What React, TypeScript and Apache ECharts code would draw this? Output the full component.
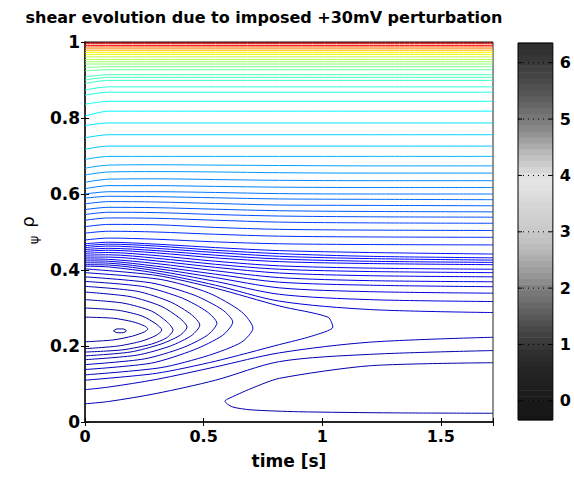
import React, { useEffect, useRef } from "react";
import * as echarts from "echarts";

const TITLE = "shear evolution due to imposed +30mV perturbation";
const X_NAME = "time [s]";
const X_MIN = 0;
const X_MAX = 1.72;
const X_STEP = 0.5;
const Y_MIN = 0;
const Y_MAX = 1;
const Y_STEP = 0.2;

// time samples shared by the horizontal-ish contours
const flatT = [0, 0.1, 0.3, 0.55, 0.82, 1.2, 1.72];

// rho of each horizontal-ish contour at the flatT samples
const flatRho: number[][] = [
  [0.999, 0.999, 0.999, 0.999, 0.999, 0.999, 0.999],
  [0.9955, 0.9955, 0.9955, 0.9955, 0.9955, 0.9955, 0.9955],
  [0.991, 0.991, 0.991, 0.991, 0.991, 0.991, 0.991],
  [0.987, 0.987, 0.987, 0.987, 0.987, 0.987, 0.987],
  [0.982, 0.982, 0.982, 0.982, 0.982, 0.982, 0.982],
  [0.977, 0.977, 0.977, 0.977, 0.977, 0.977, 0.977],
  [0.972, 0.972, 0.972, 0.972, 0.972, 0.972, 0.972],
  [0.967, 0.967, 0.967, 0.967, 0.967, 0.967, 0.967],
  [0.961, 0.961, 0.961, 0.961, 0.961, 0.961, 0.961],
  [0.954, 0.954, 0.954, 0.954, 0.954, 0.954, 0.954],
  [0.948, 0.948, 0.948, 0.948, 0.948, 0.948, 0.948],
  [0.942, 0.942, 0.942, 0.942, 0.942, 0.942, 0.942],
  [0.933, 0.935, 0.935, 0.935, 0.935, 0.935, 0.935],
  [0.924, 0.927, 0.927, 0.927, 0.927, 0.927, 0.927],
  [0.908, 0.914, 0.914, 0.914, 0.914, 0.914, 0.914],
  [0.9, 0.907, 0.907, 0.907, 0.907, 0.907, 0.907],
  [0.891, 0.899, 0.899, 0.899, 0.899, 0.899, 0.899],
  [0.874, 0.882, 0.882, 0.882, 0.882, 0.882, 0.882],
  [0.86, 0.868, 0.868, 0.868, 0.868, 0.868, 0.868],
  [0.836, 0.844, 0.844, 0.844, 0.844, 0.844, 0.844],
  [0.805, 0.818, 0.818, 0.818, 0.818, 0.818, 0.818],
  [0.78, 0.787, 0.787, 0.787, 0.787, 0.787, 0.787],
  [0.748, 0.756, 0.756, 0.756, 0.756, 0.756, 0.756],
  [0.718, 0.726, 0.726, 0.726, 0.726, 0.726, 0.726],
  [0.691, 0.699, 0.699, 0.699, 0.699, 0.699, 0.699],
  [0.668, 0.676, 0.677, 0.676, 0.675, 0.674, 0.674],
  [0.65, 0.658, 0.659, 0.658, 0.656, 0.655, 0.655],
  [0.631, 0.639, 0.64, 0.638, 0.636, 0.635, 0.635],
  [0.614, 0.622, 0.622, 0.62, 0.618, 0.617, 0.617],
  [0.6, 0.606, 0.606, 0.604, 0.601, 0.6, 0.6],
  [0.589, 0.594, 0.593, 0.59, 0.587, 0.586, 0.585],
  [0.574, 0.58, 0.579, 0.575, 0.571, 0.57, 0.569],
  [0.559, 0.565, 0.564, 0.56, 0.556, 0.554, 0.553],
  [0.546, 0.552, 0.551, 0.546, 0.542, 0.54, 0.539],
  [0.531, 0.537, 0.536, 0.531, 0.526, 0.524, 0.523],
  [0.514, 0.52, 0.519, 0.512, 0.507, 0.505, 0.504],
  [0.497, 0.502, 0.5, 0.494, 0.489, 0.487, 0.486],
  [0.479, 0.484, 0.481, 0.474, 0.469, 0.467, 0.466],
  [0.469, 0.473, 0.468, 0.459, 0.451, 0.446, 0.442],
  [0.464, 0.468, 0.463, 0.452, 0.443, 0.436, 0.432],
  [0.459, 0.463, 0.457, 0.446, 0.436, 0.43, 0.426],
  [0.454, 0.457, 0.451, 0.439, 0.429, 0.423, 0.42],
  [0.449, 0.452, 0.445, 0.432, 0.422, 0.417, 0.414],
  [0.444, 0.446, 0.438, 0.423, 0.411, 0.405, 0.402],
  [0.439, 0.44, 0.431, 0.415, 0.402, 0.396, 0.393],
  [0.434, 0.434, 0.424, 0.407, 0.392, 0.385, 0.382],
  [0.429, 0.428, 0.417, 0.398, 0.38, 0.372, 0.369],
  [0.424, 0.423, 0.41, 0.389, 0.368, 0.36, 0.356],
  [0.419, 0.418, 0.404, 0.38, 0.353, 0.343, 0.339],
  [0.414, 0.413, 0.398, 0.37, 0.336, 0.322, 0.317],
  [0.41, 0.408, 0.392, 0.36, 0.318, 0.296, 0.288],
  [0.085, 0.092, 0.112, 0.145, 0.182, 0.21, 0.223],
  [0.048, 0.054, 0.075, 0.11, 0.159, 0.178, 0.188],
];

// colour-map position (0..1) of each horizontal-ish contour
const flatLevels = [
  1.0, 0.93, 0.86, 0.8, 0.74, 0.68, 0.63, 0.6, 0.57, 0.55, 0.53, 0.51, 0.49,
  0.47, 0.45, 0.44, 0.43, 0.415, 0.4, 0.385, 0.365, 0.35, 0.335, 0.32, 0.3,
  0.285, 0.27, 0.26, 0.25, 0.24, 0.23, 0.22, 0.21, 0.2, 0.19, 0.18, 0.17, 0.16,
  0.14, 0.135, 0.13, 0.125, 0.12, 0.115, 0.11, 0.105, 0.1, 0.095, 0.09, 0.085,
  0.08, 0.06, 0.05,
];

// contours that turn back inside the plot: [time, rho] points
const loopPaths: number[][][] = [
  [[0.12, 0.24], [0.135, 0.245], [0.16, 0.245], [0.175, 0.24], [0.16, 0.235], [0.135, 0.235], [0.12, 0.24]],
  [[0, 0.276], [0.12, 0.273], [0.2, 0.264], [0.25, 0.253], [0.265, 0.245], [0.25, 0.237], [0.2, 0.226], [0.12, 0.216], [0, 0.211]],
  [[0, 0.3], [0.14, 0.294], [0.24, 0.279], [0.3, 0.258], [0.324, 0.242], [0.3, 0.228], [0.24, 0.213], [0.14, 0.2], [0, 0.193]],
  [[0, 0.322], [0.16, 0.313], [0.28, 0.292], [0.345, 0.264], [0.371, 0.242], [0.345, 0.222], [0.28, 0.205], [0.16, 0.19], [0, 0.184]],
  [[0, 0.342], [0.19, 0.33], [0.32, 0.305], [0.4, 0.273], [0.43, 0.25], [0.4, 0.228], [0.32, 0.205], [0.19, 0.184], [0, 0.174]],
  [[0, 0.357], [0.22, 0.344], [0.36, 0.316], [0.45, 0.282], [0.484, 0.255], [0.45, 0.228], [0.36, 0.2], [0.22, 0.176], [0, 0.164]],
  [[0, 0.37], [0.25, 0.356], [0.41, 0.326], [0.515, 0.29], [0.556, 0.26], [0.515, 0.228], [0.41, 0.195], [0.25, 0.166], [0, 0.151]],
  [[0, 0.382], [0.28, 0.366], [0.46, 0.334], [0.58, 0.295], [0.623, 0.263], [0.58, 0.228], [0.46, 0.19], [0.28, 0.155], [0, 0.138]],
  [[0, 0.393], [0.32, 0.375], [0.52, 0.34], [0.66, 0.29], [0.708, 0.247], [0.66, 0.21], [0.52, 0.175], [0.32, 0.143], [0, 0.124]],
  [[0, 0.403], [0.3, 0.386], [0.55, 0.352], [0.821, 0.305], [1.024, 0.276], [1.045, 0.25], [0.956, 0.226], [0.821, 0.204], [0.55, 0.16], [0.3, 0.128], [0, 0.11]],
  [[1.72, 0.156], [1.2, 0.148], [0.82, 0.115], [0.7, 0.088], [0.6, 0.06], [0.59, 0.055], [0.62, 0.04], [0.7, 0.032], [0.9, 0.027], [1.3, 0.024], [1.72, 0.023]],
];
const loopLevels = [0.02, 0.03, 0.035, 0.04, 0.045, 0.05, 0.055, 0.06, 0.065, 0.07, 0.04];

// colour bar: grey level of each band, bottom to top
const cbarMin = -0.34;
const cbarMax = 6.35;
const cbarTicks = [0, 1, 2, 3, 4, 5, 6];
const cbarGray = [
  22, 23, 24, 26, 28, 30, 32, 34, 37, 40, 44, 48, 54, 60, 66, 72, 80, 88, 96,
  104, 112, 120, 128, 140, 150, 158, 166, 174, 182, 188, 194, 198, 202, 205,
  208, 211, 214, 218, 222, 226, 228, 224, 214, 204, 194, 184, 172, 160, 148,
  136, 126, 118, 110, 102, 94, 86, 80, 74, 68, 63, 58, 54, 50, 48,
];

const FONT = "'DejaVu Sans', 'Liberation Sans', sans-serif";

function clamp01(v: number) {
  return Math.max(0, Math.min(1, v));
}
function jet(f: number) {
  const r = clamp01(Math.min(4 * f - 1.5, -4 * f + 4.5));
  const g = clamp01(Math.min(4 * f - 0.5, -4 * f + 3.5));
  const b = clamp01(Math.min(4 * f + 0.5, -4 * f + 2.5));
  return `rgb(${Math.round(r * 255)},${Math.round(g * 255)},${Math.round(b * 255)})`;
}

export default function App() {
  const ref = useRef<HTMLDivElement>(null);
  useEffect(() => {
    if (!ref.current) return;
    const chart = echarts.init(ref.current, undefined, { renderer: "svg" });

    const lineSeries: any[] = [];
    flatRho.forEach((rhos, i) => {
      lineSeries.push({
        type: "line",
        xAxisIndex: 0,
        yAxisIndex: 0,
        data: rhos.map((r, k) => [flatT[k], r]),
        showSymbol: false,
        symbol: "none",
        smooth: 0.3,
        silent: true,
        lineStyle: { color: jet(flatLevels[i]), width: 1 },
        z: 3,
      });
    });
    loopPaths.forEach((pts, i) => {
      lineSeries.push({
        type: "line",
        xAxisIndex: 0,
        yAxisIndex: 0,
        data: pts,
        showSymbol: false,
        symbol: "none",
        smooth: 0.25,
        silent: true,
        lineStyle: { color: jet(loopLevels[i]), width: 1 },
        z: 3,
      });
    });

    const bandH = (cbarMax - cbarMin) / cbarGray.length;
    const cbarData = cbarGray.map((g, i) => [
      cbarMin + i * bandH,
      cbarMin + (i + 1) * bandH,
      g,
    ]);

    const tickLabel = {
      fontFamily: FONT,
      fontWeight: "bold",
      fontSize: 16,
      color: "#000",
    };

    chart.setOption({
      animation: false,
      backgroundColor: "#fff",
      grid: [
        { left: 85, top: 42, width: 408, height: 380, show: true, borderColor: "#222", borderWidth: 1, backgroundColor: "#fff" },
        { left: 518, top: 43, width: 36, height: 377, show: true, borderColor: "#000", borderWidth: 1 },
      ],
      xAxis: [
        {
          type: "value",
          gridIndex: 0,
          min: X_MIN,
          max: X_MAX,
          interval: X_STEP,
          position: "bottom",
          axisLine: { show: true, lineStyle: { color: "#000", width: 1.5 } },
          axisTick: { show: true, inside: true, length: 4, lineStyle: { color: "#000" } },
          axisLabel: {
            ...tickLabel,
            margin: 6,
            showMaxLabel: true,
            formatter: (v: number) =>
              Math.abs(v / X_STEP - Math.round(v / X_STEP)) < 1e-6 ? String(v) : "",
          },
          splitLine: { show: false },
          name: X_NAME,
          nameLocation: "middle",
          nameGap: 30,
          nameTextStyle: { fontFamily: FONT, fontWeight: "bold", fontSize: 17, color: "#000" },
        },
        {
          type: "value",
          gridIndex: 0,
          min: X_MIN,
          max: X_MAX,
          interval: X_STEP,
          position: "top",
          axisLine: { show: false },
          axisTick: { show: true, inside: true, length: 4, lineStyle: { color: "#000" } },
          axisLabel: { show: false },
          splitLine: { show: false },
        },
        { type: "value", gridIndex: 1, min: 0, max: 1, show: false },
      ],
      yAxis: [
        {
          type: "value",
          gridIndex: 0,
          min: Y_MIN,
          max: Y_MAX,
          interval: Y_STEP,
          position: "left",
          axisLine: { show: true, lineStyle: { color: "#000", width: 1.5 } },
          axisTick: { show: true, inside: true, length: 4, lineStyle: { color: "#000" } },
          axisLabel: { ...tickLabel, fontSize: 17, margin: 5 },
          splitLine: { show: false },
        },
        {
          type: "value",
          gridIndex: 0,
          min: Y_MIN,
          max: Y_MAX,
          interval: Y_STEP,
          position: "right",
          axisLine: { show: true, lineStyle: { color: "#333", width: 1.5 } },
          axisTick: { show: true, inside: true, length: 4, lineStyle: { color: "#000" } },
          axisLabel: { show: false },
          splitLine: { show: false },
        },
        {
          type: "value",
          gridIndex: 1,
          min: cbarMin,
          max: cbarMax,
          position: "right",
          axisLine: { show: false },
          axisTick: { show: false },
          axisLabel: { ...tickLabel, margin: 7, customValues: cbarTicks },
          splitLine: { show: false },
        },
      ],
      graphic: [
        {
          type: "text",
          x: 264,
          y: 17,
          style: {
            text: TITLE,
            font: `bold 16px ${FONT}`,
            fill: "#000",
            textAlign: "center",
            textVerticalAlign: "middle",
          },
        },
        {
          type: "group",
          x: 30,
          y: 231,
          rotation: Math.PI / 2,
          children: [
            {
              type: "text",
              x: 9,
              y: -3,
              style: { text: "ρ", font: `18px ${FONT}`, fill: "#000", textAlign: "center", textVerticalAlign: "middle" },
            },
            {
              type: "text",
              x: -9,
              y: 3,
              style: { text: "ψ", font: `13px ${FONT}`, fill: "#000", textAlign: "center", textVerticalAlign: "middle" },
            },
          ],
        },
      ],
      series: [
        ...lineSeries,
        {
          type: "custom",
          xAxisIndex: 2,
          yAxisIndex: 2,
          silent: true,
          z: -1,
          data: cbarData,
          renderItem: (params: any, api: any) => {
            const lo = api.value(0);
            const hi = api.value(1);
            const g = api.value(2);
            const p1 = api.coord([0, hi]);
            const p2 = api.coord([1, lo]);
            return {
              type: "rect",
              shape: { x: p1[0], y: p1[1] - 0.3, width: p2[0] - p1[0], height: p2[1] - p1[1] + 0.6 },
              style: { fill: `rgb(${g},${g},${g})` },
            };
          },
        },
        {
          type: "custom",
          xAxisIndex: 2,
          yAxisIndex: 2,
          silent: true,
          z: 4,
          data: cbarTicks.map((v) => [v]),
          renderItem: (params: any, api: any) => {
            const v = api.value(0);
            const a = api.coord([0, v]);
            const b = api.coord([1, v]);
            return {
              type: "group",
              children: [
                {
                  type: "line",
                  shape: { x1: a[0], y1: a[1], x2: b[0], y2: b[1] },
                  style: { stroke: "#000", lineWidth: 1, lineDash: [1, 4] },
                },
                {
                  type: "line",
                  shape: { x1: b[0] - 4, y1: b[1], x2: b[0], y2: b[1] },
                  style: { stroke: "#000", lineWidth: 1 },
                },
                {
                  type: "line",
                  shape: { x1: a[0], y1: a[1], x2: a[0] + 4, y2: a[1] },
                  style: { stroke: "#000", lineWidth: 1 },
                },
              ],
            };
          },
        },
      ],
    });
    return () => chart.dispose();
  }, []);
  return (
    <div
      ref={ref}
      style={{ position: "absolute", left: 0, top: 0, width: 574, height: 478 }}
    />
  );
}
